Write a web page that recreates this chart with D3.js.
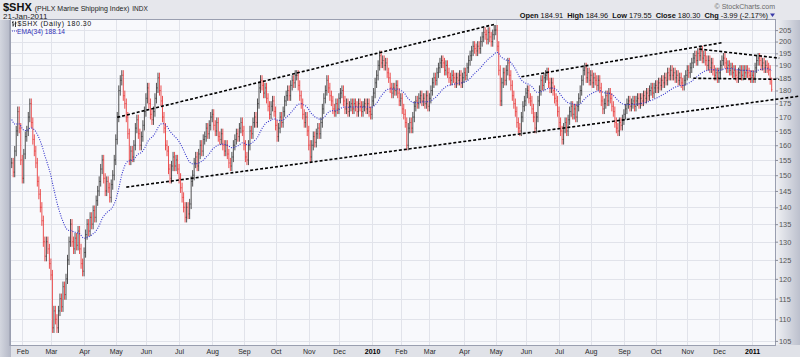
<!DOCTYPE html>
<html>
<head>
<meta charset="utf-8">
<script src="https://cdn.jsdelivr.net/npm/d3@7/dist/d3.min.js"></script>
<style>
  html, body { margin: 0; padding: 0; background: #e6e7ec; overflow: hidden; }
  svg { display: block; }
  text { font-family: "Liberation Sans", Arial, sans-serif; }
</style>
</head>
<body>
<svg id="chart" width="800" height="357"></svg>
<script>
// ---------------- DATA ----------------
const symbol = "$SHX";
const title = "(PHLX Marine Shipping Index)";
const exchange = "INDX";
const asOf = "21-Jan-2011";
const startDate = "2009-01-22";
const holidays = ["2009-02-16","2009-04-10","2009-05-25","2009-07-03","2009-09-07","2009-11-26","2009-12-25",
  "2010-01-01","2010-01-18","2010-02-15","2010-04-02","2010-05-31","2010-07-05","2010-09-06","2010-11-25","2010-12-24",
  "2011-01-17","2011-02-21"];
const monthNames = ["Jan","Feb","Mar","Apr","May","Jun","Jul","Aug","Sep","Oct","Nov","Dec"];

// daily closes
const closes2009 = [
  154,151,158,165,172,166,155,
  149,157,163,165,170,175,168,162,158,154,148,144,140,136,130,126,130,128,124,
  121,108,112,110,108,112,115,113,118,116,120,125,130,135,130,128,131,129,133,128,124,122,
  127,132,135,133,137,135,139,137,142,145,148,152,155,149,145,148,146,143,147,150,155,
  162,170,180,184,186,178,175,170,164,155,158,156,160,166,169,164,160,163,167,172,
  177,181,175,171,169,172,177,181,185,180,176,170,166,160,158,152,149,153,156,153,155,152,
  149,146,143,140,137,140,138,141,148,150,154,156,153,157,160,158,162,163,166,164,167,170,
  171,167,165,168,163,162,164,160,158,160,157,154,153,156,160,162,164,163,166,168,165,
  160,156,155,160,165,164,168,170,168,175,181,184,182,179,181,177,174,171,174,176,172,
  167,163,166,170,168,172,176,178,180,178,182,184,183,186,186,182,178,175,171,168,170,165,
  160,156,160,163,161,164,166,164,168,173,177,180,184,181,178,176,173,172,175,173,
  177,179,180,176,173,175,172,174,175,173,175,174,172,175,174,172,174,175,173,175,172,171
];
const closes2010 = [
  176,179,183,186,190,194,191,192,190,191,187,185,181,179,181,180,182,179,176,
  177,173,171,168,160,166,168,166,170,174,176,175,177,178,176,177,175,178,174,
  177,180,183,185,184,187,189,191,192,191,188,190,187,185,184,186,185,183,185,184,186,183,185,
  187,186,189,192,194,196,198,197,196,198,197,200,202,204,203,201,204,202,200,203,205,
  205,198,188,176,183,187,184,188,191,186,182,178,175,172,168,166,165,170,174,176,
  179,180,177,176,173,170,166,170,176,180,184,182,185,186,187,183,181,183,180,177,176,172,
  168,165,162,166,168,165,169,172,174,171,173,170,174,177,180,184,188,189,185,187,184,
  186,183,185,184,182,184,181,176,173,175,178,176,179,177,174,172,168,166,165,168,167,169,
  171,173,175,176,174,175,176,174,176,177,175,177,176,178,177,179,178,180,181,179,181,
  182,181,183,182,184,183,185,184,187,186,188,186,187,185,186,184,185,183,182,184,186,
  188,187,189,191,193,194,192,195,194,196,193,194,192,190,192,189,191,188,186,187,185,
  187,190,192,193,191,189,190,188,189,187,188,186,185,187,188,186,188,187,188,187,186,185
];
const closes2011 = [186,185,189,192,193,192,190,191,189,190,189,188,184.29,180.30];

const lastBar = { open: 184.91, high: 184.96, low: 179.55, close: 180.30 };
const lastChange = "-3.99 (-2.17%)";
const emaPeriod = 34;
const emaSeed = 170;
const emaLastLabel = "188.14";
const yTicks = [105,110,115,120,125,130,135,140,145,150,155,160,165,170,175,180,185,190,195,200,205];

// hand-drawn trend lines: [date, value] endpoints
const trendLines = [
  { from: ["2009-05-04", 169.9], to: ["2010-05-03", 207.7] },
  { from: ["2009-05-12", 146.2], to: ["2011-02-16", 177.8] },
  { from: ["2010-05-26", 185.4], to: ["2010-12-03", 199.5] },
  { from: ["2010-11-11", 196.8], to: ["2011-01-28", 193.0] },
  { from: ["2010-11-05", 184.8], to: ["2011-01-28", 184.4] }
];

// ---------------- BUILD ----------------
function tradingDays(from, to, hol) {
  const set = new Set(hol), out = [];
  const d = new Date(from + "T12:00:00Z"), end = new Date(to + "T12:00:00Z");
  while (d <= end) {
    const wd = d.getUTCDay(), s = d.toISOString().slice(0, 10);
    if (wd !== 0 && wd !== 6 && !set.has(s)) out.push(s);
    d.setUTCDate(d.getUTCDate() + 1);
  }
  return out;
}
const calendar = tradingDays(startDate, "2011-02-28", holidays);
const closes = closes2009.concat(closes2010, closes2011);
const N = closes.length;
const dateIndex = s => calendar.indexOf(s);

const bars = closes.map((c, i) => {
  if (i === N - 1) return Object.assign({ i, prev: closes[i - 1] }, lastBar);
  const o = i > 0 ? closes[i - 1] : c;
  const hi = Math.max(o, c) * 1.011, lo = Math.min(o, c) * 0.989;
  return { i, open: o, high: hi, low: lo, close: c, prev: i > 0 ? closes[i - 1] : c };
});
let e = emaSeed;
const ema = closes.map(c => (e = e + (c - e) * 2 / (emaPeriod + 1)));

const svg = d3.select("#chart");
const P = { left: 11, right: 775, top: 20, bottom: 344 };
const x = d3.scaleLinear().domain([-0.47, 506.2]).range([P.left, P.right]);
const y = d3.scaleLog().domain([104.3, 209.5]).range([P.bottom, P.top]);

// backgrounds
const defs = svg.append("defs");
const gr = defs.append("linearGradient").attr("id", "rg").attr("x1", 0).attr("x2", 1).attr("y1", 0).attr("y2", 0);
gr.append("stop").attr("offset", "0%").attr("stop-color", "#f1f2f5");
gr.append("stop").attr("offset", "100%").attr("stop-color", "#bcc0cd");
const gl = defs.append("linearGradient").attr("id", "lg").attr("x1", 0).attr("x2", 1).attr("y1", 0).attr("y2", 0);
gl.append("stop").attr("offset", "0%").attr("stop-color", "#d3d6df");
gl.append("stop").attr("offset", "100%").attr("stop-color", "#b3b7c6");

svg.append("rect").attr("width", 800).attr("height", 357).attr("fill", "#e6e7ec");
svg.append("rect").attr("x", 0).attr("y", P.top).attr("width", P.left).attr("height", 337).attr("fill", "url(#lg)");
svg.append("rect").attr("x", P.right).attr("y", P.top).attr("width", 800 - P.right).attr("height", 325).attr("fill", "url(#rg)");
svg.append("rect").attr("x", P.left).attr("y", 345).attr("width", 800 - P.left).attr("height", 12).attr("fill", "#e0e2e8");
svg.append("rect").attr("x", P.left).attr("y", P.top).attr("width", P.right - P.left).attr("height", 345 - P.top)
  .attr("fill", "#f8f9fc");

// grid
const monthStarts = [];
for (let i = 1; i < N; i++) if (calendar[i].slice(5, 7) !== calendar[i - 1].slice(5, 7)) monthStarts.push(i);
const grid = svg.append("g").attr("stroke", "#e1e3ea").attr("stroke-width", 1);
grid.selectAll("line.h").data(yTicks).join("line")
  .attr("x1", P.left).attr("x2", P.right)
  .attr("y1", d => Math.round(y(d)) + 0.5).attr("y2", d => Math.round(y(d)) + 0.5);
grid.selectAll("line.v").data(monthStarts).join("line")
  .attr("y1", P.top).attr("y2", 345)
  .attr("x1", d => Math.round(x(d)) + 0.5).attr("x2", d => Math.round(x(d)) + 0.5);

// plot border
svg.append("rect").attr("x", P.left - 0.5).attr("y", P.top - 0.5).attr("width", P.right - P.left + 1).attr("height", 345 - P.top + 1)
  .attr("fill", "none").attr("stroke", "#9a9fb0").attr("stroke-width", 1);
svg.append("line").attr("x1", P.left - 1.5).attr("x2", P.left - 1.5).attr("y1", P.top).attr("y2", 346)
  .attr("stroke", "#a4a8b8").attr("stroke-width", 1);

// axes
const yAxis = d3.axisRight(y).tickValues(yTicks).tickFormat(d3.format("d")).tickSize(3).tickPadding(1);
const ya = svg.append("g").attr("transform", `translate(${P.right},0)`).call(yAxis);
ya.select(".domain").remove();
ya.selectAll(".tick line").attr("stroke", "#8a8e9c");
ya.selectAll(".tick text").attr("fill", "#555").style("font-size", "7.4px").style("font-family", '"Liberation Sans", Arial, sans-serif');

const xAxis = d3.axisBottom(x).tickValues(monthStarts).tickSize(0).tickPadding(4.5)
  .tickFormat(i => calendar[i].slice(5, 7) === "01" ? calendar[i].slice(0, 4) : monthNames[+calendar[i].slice(5, 7) - 1]);
const xa = svg.append("g").attr("transform", "translate(0,345)").call(xAxis);
xa.select(".domain").remove();
xa.selectAll(".tick text").style("font-size", "7px")
  .style("font-family", '"Liberation Sans", Arial, sans-serif')
  .style("font-weight", i => calendar[i].slice(5, 7) === "01" ? "bold" : "normal")
  .attr("fill", i => calendar[i].slice(5, 7) === "01" ? "#000" : "#2a2a2a");

// bars
svg.append("g").selectAll("path").data(bars).join("path")
  .attr("fill", "none")
  .attr("stroke", d => d.close >= d.prev ? "#333" : "#e83232")
  .attr("stroke-width", 0.85)
  .attr("d", d => {
    const cx = x(d.i);
    return `M${cx},${y(d.high)}V${y(d.low)}M${cx - 0.6},${y(d.open)}H${cx}M${cx},${y(d.close)}H${cx + 0.6}`;
  });

// EMA
svg.append("path").datum(ema)
  .attr("fill", "none").attr("stroke", "#3434cc").attr("stroke-width", 1.1).attr("stroke-dasharray", "1,1.4")
  .attr("d", d3.line().x((d, i) => x(i)).y(d => y(d)));

// trend lines
svg.append("g").selectAll("path").data(trendLines).join("path")
  .attr("fill", "none").attr("stroke", "#000").attr("stroke-width", 1.6).attr("stroke-dasharray", "3,2")
  .attr("d", t => d3.line()([[x(dateIndex(t.from[0])), y(t.from[1])], [x(dateIndex(t.to[0])), y(t.to[1])]]));

// legend
const lgd = svg.append("g");
lgd.append("path").attr("d", "M13,21V26.5M12,22.5H13M13,25H14M15.5,21.5V27M14.5,24H15.5M15.5,23H16.5")
  .attr("stroke", "#222").attr("fill", "none").attr("stroke-width", 0.9);
lgd.append("text").attr("x", 17.5).attr("y", 26.3).attr("fill", "#111").style("font-size", "7px")
  .style("letter-spacing", "0.55px").text(`${symbol} (Daily) ${closes[N - 1].toFixed(2)}`);
lgd.append("line").attr("x1", 12).attr("x2", 17).attr("y1", 31).attr("y2", 31)
  .attr("stroke", "#3b3bcc").attr("stroke-dasharray", "1,1");
lgd.append("text").attr("x", 17).attr("y", 33.8).attr("fill", "#2d2db5").style("font-size", "6.6px")
  .text(`EMA(${emaPeriod}) ${emaLastLabel}`);

// header
const hdr = svg.append("text").attr("x", 3).attr("y", 10.5).attr("fill", "#111");
hdr.append("tspan").style("font-size", "11px").style("font-weight", "bold").text(symbol);
hdr.append("tspan").attr("dx", 3).style("font-size", "7px").attr("fill", "#222").text(title);
hdr.append("tspan").attr("dx", 3).style("font-size", "6.5px").attr("fill", "#222").text(exchange);
svg.append("text").attr("x", 3).attr("y", 18.6).attr("fill", "#222").style("font-size", "8px").text(asOf);

svg.append("text").attr("x", 775).attr("y", 9).attr("text-anchor", "end").attr("fill", "#6a6a6a")
  .style("font-size", "7px").text("\u00A9 StockCharts.com");

const stats = [["Open", lastBar.open.toFixed(2)], ["High", lastBar.high.toFixed(2)], ["Low", lastBar.low.toFixed(2)],
               ["Close", lastBar.close.toFixed(2)], ["Chg", lastChange]];
const st = svg.append("text").attr("x", 768).attr("y", 18).attr("text-anchor", "end").attr("fill", "#111").style("font-size", "7.4px");
stats.forEach((s, k) => {
  st.append("tspan").attr("dx", k ? 4 : 0).style("font-weight", "bold").text(s[0]);
  st.append("tspan").attr("dx", 2).text(s[1]);
});
svg.append("path").attr("d", "M770,13.5H775L772.5,17Z").attr("fill", "#3a3aa8");
</script>
</body>
</html>
